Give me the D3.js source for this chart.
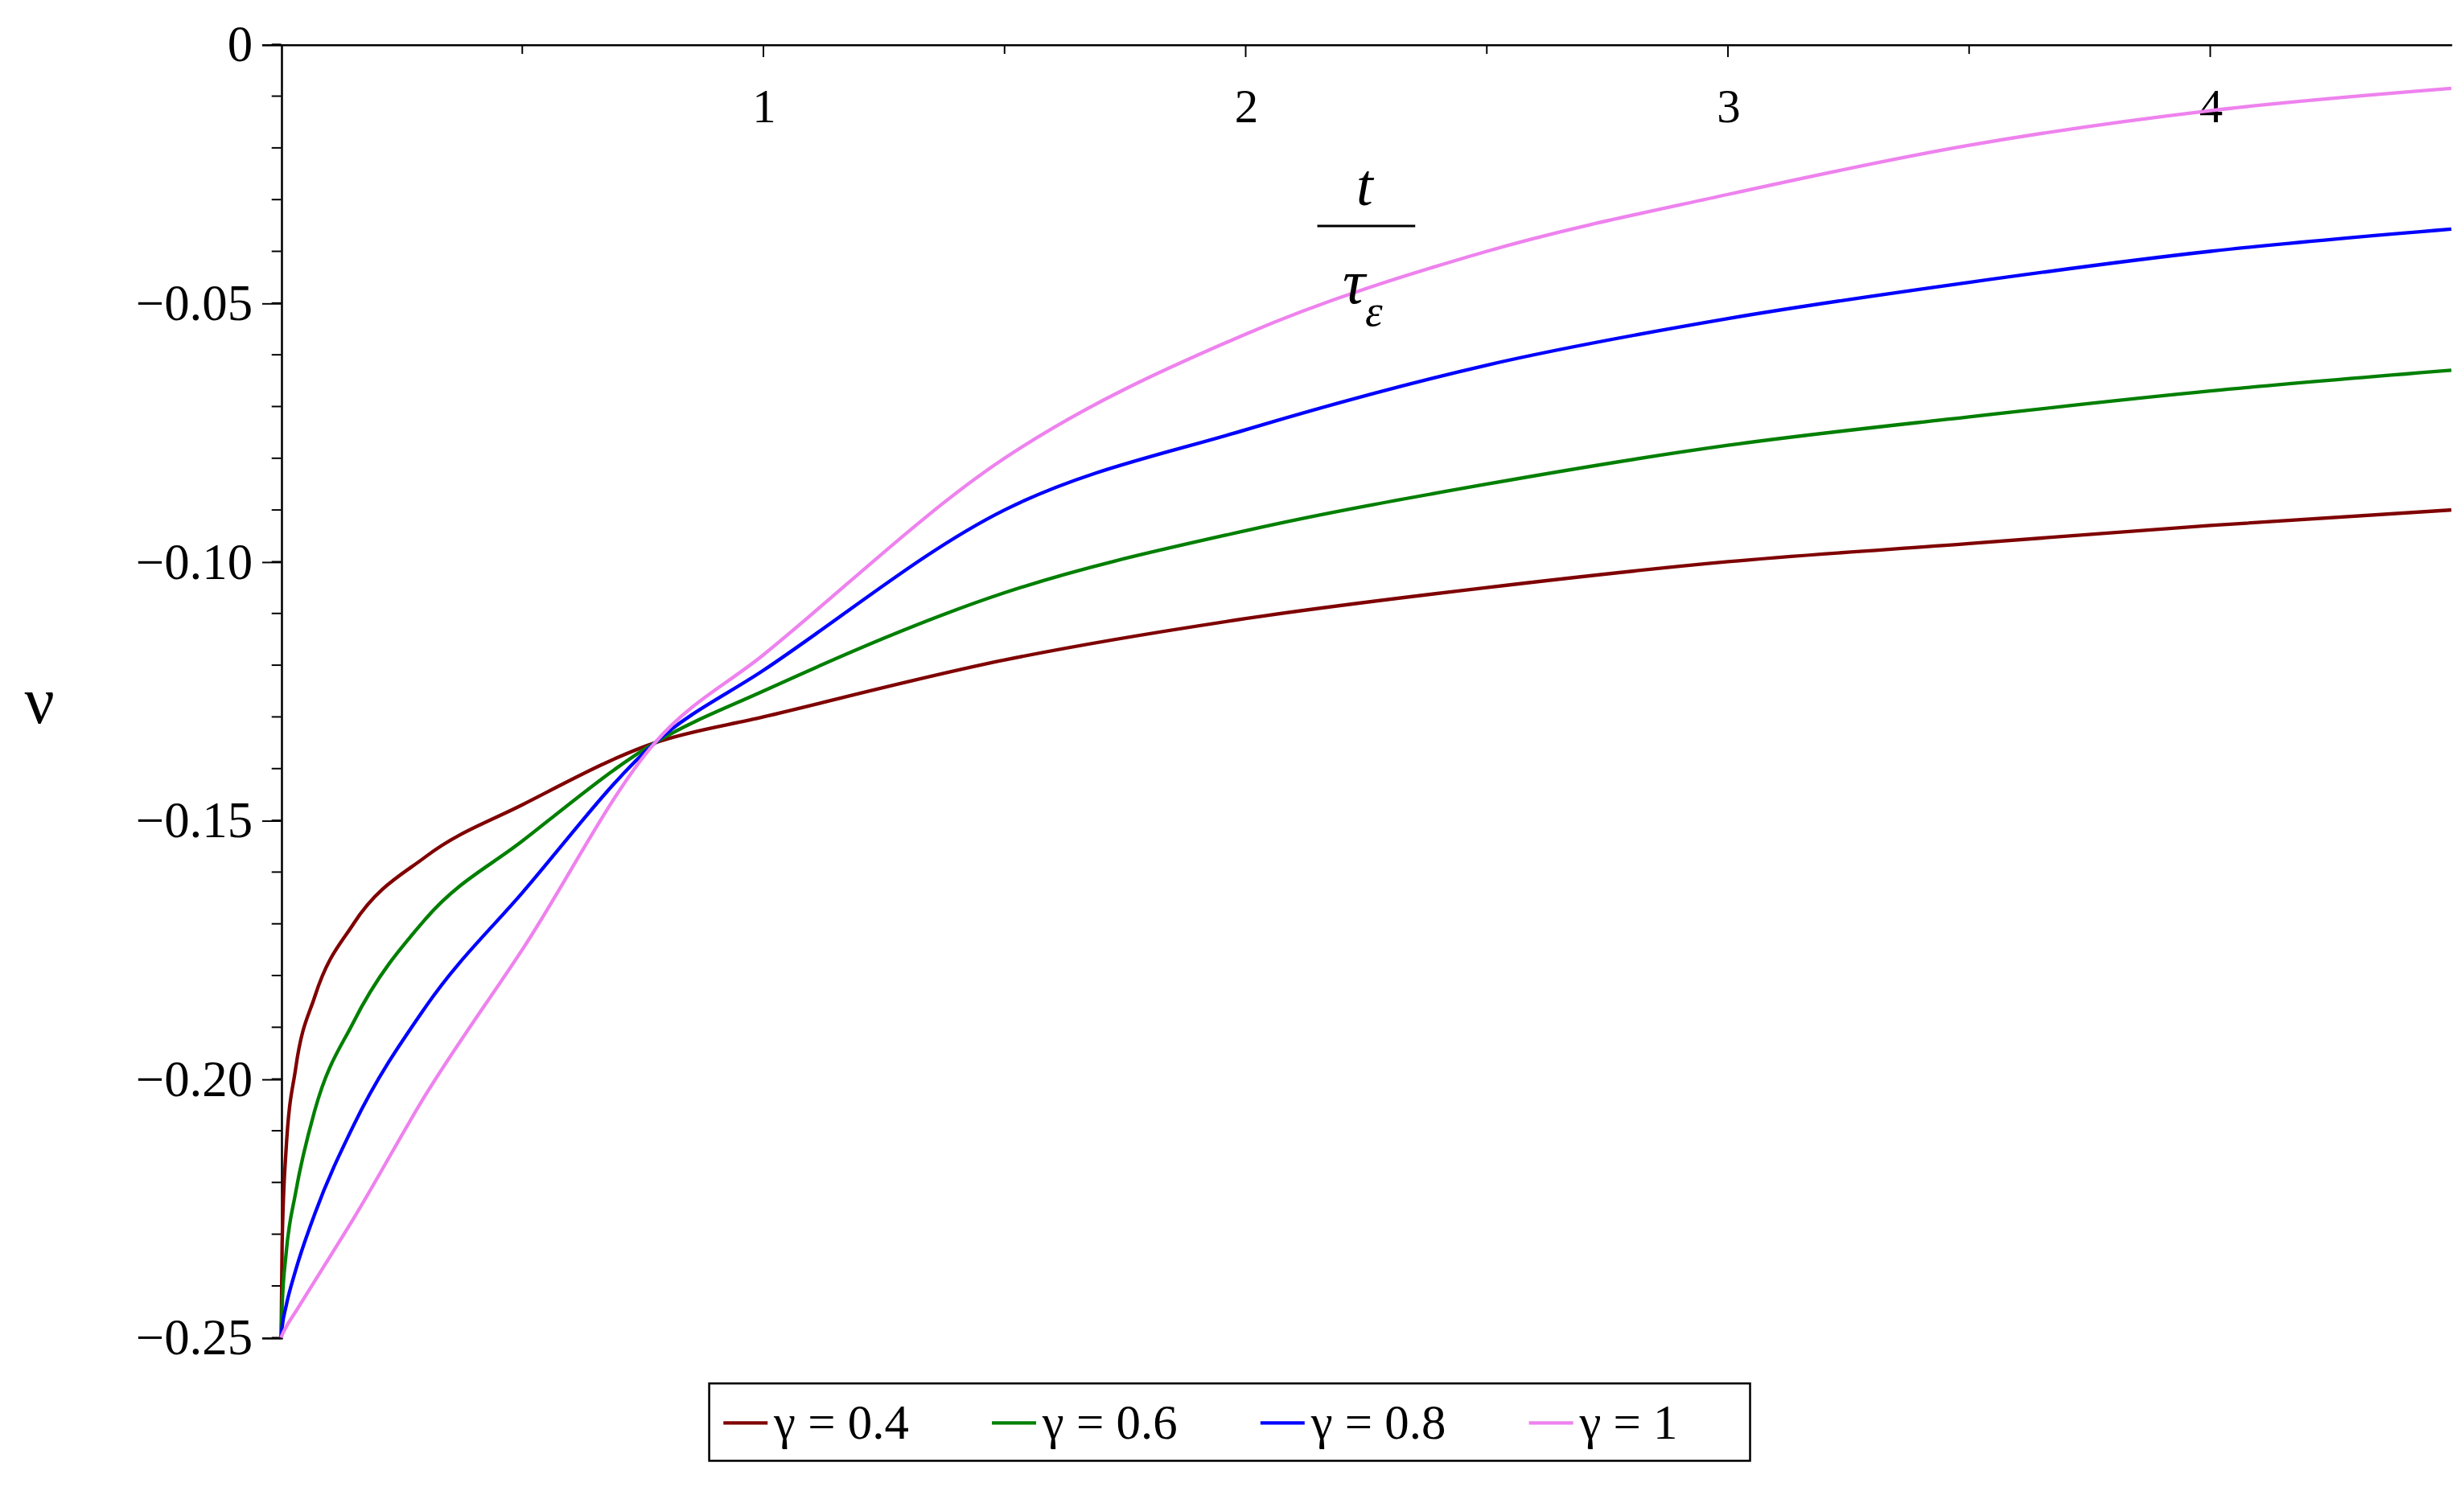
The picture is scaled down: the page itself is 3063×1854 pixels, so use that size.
<!DOCTYPE html>
<html><head><meta charset="utf-8">
<script src="https://cdn.jsdelivr.net/npm/d3@7"></script>
<style>body{margin:0;background:#fff}</style>
</head><body>
<svg id="chart" width="3063" height="1854" viewBox="0 0 1560 944"></svg>
<script>
// values
const tVals = [0, 0.002, 0.01, 0.03, 0.07, 0.15, 0.3, 0.5, 0.775, 1, 1.5, 2, 2.5, 3, 3.5, 4, 4.5];
const g04 = [-0.25, -0.232, -0.214, -0.198, -0.184, -0.170, -0.157, -0.147, -0.135, -0.130, -0.119, -0.111, -0.105, -0.100, -0.0965, -0.093, -0.090];
const g06 = [-0.25, -0.244, -0.234, -0.222, -0.206, -0.189, -0.169, -0.154, -0.135, -0.125, -0.106, -0.094, -0.085, -0.0775, -0.072, -0.067, -0.063];
const g08 = [-0.25, -0.248, -0.244, -0.237, -0.226, -0.209, -0.186, -0.164, -0.135, -0.121, -0.090, -0.0745, -0.062, -0.053, -0.046, -0.040, -0.0357];
const g10 = [-0.25, -0.2495, -0.248, -0.245, -0.239, -0.227, -0.203, -0.175, -0.135, -0.118, -0.080, -0.056, -0.040, -0.029, -0.0195, -0.0128, -0.0085];
const labels = ["γ = 0.4", "γ = 0.6", "γ = 0.8", "γ = 1"];
const colors = ["#7f0000", "#007f00", "#0000ff", "#ee82ee"];
const series = [g04, g06, g08, g10];
const xTicks = [1, 2, 3, 4];
const yTicks = [0, -0.05, -0.10, -0.15, -0.20, -0.25];
const yLabels = ["0", "−0.05", "−0.10", "−0.15", "−0.20", "−0.25"];

const svg = d3.select("#chart");
const x = d3.scaleLinear().domain([0, 4.5]).range([178, 1552]);
const y = d3.scaleLinear().domain([-0.25, 0]).range([847, 28]);
const font = "Liberation Serif";

// x axis along y=0, labels below
const xa = svg.append("g").attr("transform", `translate(0,${y(0)})`)
  .call(d3.axisBottom(x).tickValues(xTicks).tickSize(0).tickPadding(28).tickFormat(d3.format("d")));
xa.select(".domain").attr("stroke", "#000").attr("stroke-width", 1.3);
xa.selectAll("text").attr("font-family", font).attr("font-size", 30);
xa.selectAll(".minor").data(d3.range(0.5, 4.5, 0.5)).enter().append("line")
  .attr("x1", d => x(d)).attr("x2", d => x(d)).attr("y1", 0).attr("y2", d => d % 1 === 0 ? 8 : 6)
  .attr("stroke", "#000");

// y axis
const ya = svg.append("g").attr("transform", `translate(${x(0)},0)`)
  .call(d3.axisLeft(y).tickValues(yTicks).tickSize(12).tickPadding(6).tickFormat((d, i) => yLabels[i]));
ya.select(".domain").attr("stroke", "#000").attr("stroke-width", 1.3);
ya.selectAll("text").attr("font-family", font).attr("font-size", 32);
ya.selectAll(".minor").data(d3.range(-0.25, 0.0001, 0.01)).enter().append("line")
  .attr("x1", -6).attr("x2", 0).attr("y1", d => y(d)).attr("y2", d => y(d)).attr("stroke", "#000");

// curves
const line = d3.line().x((d, i) => x(tVals[i])).y(d => y(d)).curve(d3.curveMonotoneX);
series.forEach((s, k) => {
  svg.append("path").attr("d", line(s)).attr("fill", "none")
    .attr("stroke", colors[k]).attr("stroke-width", 2.2);
});

// axis labels
svg.append("text").attr("x", 864).attr("y", 130).attr("text-anchor", "middle")
  .attr("font-family", font).attr("font-style", "italic").attr("font-size", 38).text("t");
svg.append("line").attr("x1", 834).attr("x2", 896).attr("y1", 143).attr("y2", 143).attr("stroke", "#000").attr("stroke-width", 1.5);
const tau = svg.append("text").attr("x", 850).attr("y", 192)
  .attr("font-family", font).attr("font-style", "italic").attr("font-size", 40);
tau.append("tspan").text("τ");
tau.append("tspan").attr("font-size", 28).attr("dy", 14).text("ε");
svg.append("text").attr("x", 25).attr("y", 458).attr("text-anchor", "middle")
  .attr("font-family", font).attr("font-size", 42).text("ν");

// legend
const lg = svg.append("g");
lg.append("rect").attr("x", 449).attr("y", 876).attr("width", 659).attr("height", 49)
  .attr("fill", "#fff").attr("stroke", "#000").attr("stroke-width", 1.3);
const lx = [458, 628, 798, 968];
labels.forEach((l, k) => {
  lg.append("line").attr("x1", lx[k]).attr("x2", lx[k] + 28).attr("y1", 901).attr("y2", 901)
    .attr("stroke", colors[k]).attr("stroke-width", 2.2);
  lg.append("text").attr("x", lx[k] + 32).attr("y", 911).attr("font-family", font)
    .attr("font-size", 31).text(l);
});
</script>
</body></html>
